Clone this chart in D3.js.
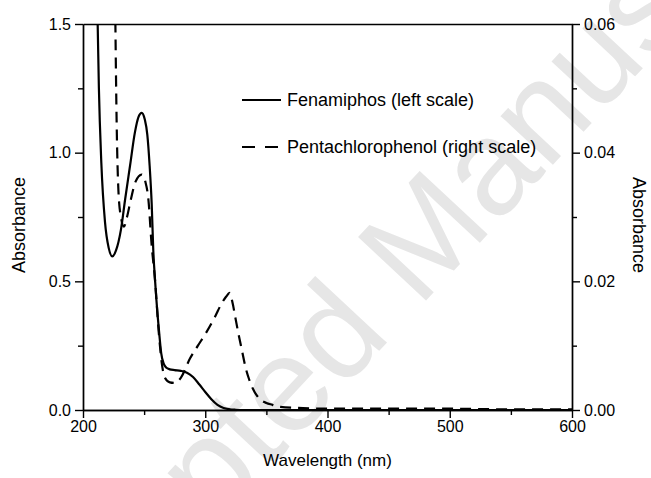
<!DOCTYPE html>
<html><head><meta charset="utf-8">
<script src="https://cdn.jsdelivr.net/npm/d3@7"></script>
<style>body{margin:0;background:#fff}svg{display:block;font-family:"Liberation Sans",Arial,sans-serif}</style>
</head><body>
<script>
// Fenamiphos (left scale): wavelength nm, absorbance
const fenWave = [210,211,212,213,215,218,221,224,227,231,234.5,238.5,242.5,245.5,248,250.5,252.6,254.5,256.2,257.5,259,261,262.5,264,266,268,271,275,280,285,290,295,300,305,310,315,320,325,330,400,500,600];
const fenAbs  = [1.9,1.7,1.5,1.25,0.96,0.73,0.63,0.597,0.62,0.70,0.82,0.95,1.08,1.14,1.155,1.13,1.07,0.95,0.80,0.62,0.50,0.37,0.29,0.22,0.18,0.165,0.158,0.155,0.152,0.145,0.128,0.10,0.07,0.042,0.02,0.008,0.003,0.001,0,0,0,0];
// Pentachlorophenol (right scale)
const pcpWave = [225.5,226.5,227.5,229,231,233.5,236,239,243,248,251,253.5,256,259,262,264.5,267,271,275.5,280,287.5,294,301,308,313.5,317,320,322.5,324.5,327,330,333,336,339,342,346,350,355,360,380,400,450,500,550,600];
const pcpAbs  = [0.08,0.06,0.045,0.034,0.030,0.0285,0.030,0.0326,0.0355,0.0366,0.0355,0.0327,0.026,0.020,0.012,0.0072,0.005,0.0043,0.0042,0.0050,0.0080,0.0100,0.0121,0.0145,0.0166,0.0176,0.0182,0.0165,0.0145,0.0120,0.0093,0.0066,0.0047,0.0033,0.0023,0.0015,0.0011,0.0008,0.0005,0.0003,0.0002,0.0002,0.0002,0.0001,0.0001];

const xMajor = [200,300,400,500,600], xMinor = [250,350,450,550];
const yLMajor = [0,0.5,1.0,1.5], yLMinor = [0.25,0.75,1.25];
const yRMajor = [0,0.02,0.04,0.06], yRMinor = [0.01,0.03,0.05];
const seriesNames = ["Fenamiphos (left scale)","Pentachlorophenol (right scale)"];

const W=651,H=478, L=83,R=572,T=24,B=410;
const svg = d3.select("body").append("svg").attr("width",W).attr("height",H);

// watermark
svg.append("text").attr("transform","translate(405,255) rotate(-47)")
  .attr("text-anchor","middle").attr("dominant-baseline","central")
  .attr("font-size",135).attr("fill","#e6e6e6").text("Accepted Manuscript");

const x = d3.scaleLinear().domain([200,600]).range([L,R]);
const yL = d3.scaleLinear().domain([0,1.5]).range([B,T]);
const yR = d3.scaleLinear().domain([0,0.06]).range([B,T]);

svg.append("clipPath").attr("id","c").append("rect").attr("x",L).attr("y",T).attr("width",R-L).attr("height",B-T);

const fen = fenWave.map((w,i)=>[w,fenAbs[i]]);
const pcp = pcpWave.map((w,i)=>[w,pcpAbs[i]]);
const g = svg.append("g").attr("clip-path","url(#c)");
g.append("path").datum(fen).attr("fill","none").attr("stroke","#000").attr("stroke-width",2.2)
  .attr("d",d3.line().x(d=>x(d[0])).y(d=>yL(d[1])).curve(d3.curveMonotoneX));
g.append("path").datum(pcp).attr("fill","none").attr("stroke","#000").attr("stroke-width",2.2)
  .attr("stroke-dasharray","11,7")
  .attr("d",d3.line().x(d=>x(d[0])).y(d=>yR(d[1])).curve(d3.curveMonotoneX));

function style(sel){
  sel.selectAll("path,line").attr("stroke","#000").attr("stroke-width",1.4);
  sel.selectAll("text").attr("font-size",16).attr("fill","#000").attr("font-family","'Liberation Sans',Arial,sans-serif");
}
// bottom
svg.append("g").attr("transform",`translate(0,${B})`).call(d3.axisBottom(x).tickValues(xMajor).tickSize(8).tickSizeOuter(0).tickPadding(3)).call(style);
svg.append("g").attr("transform",`translate(0,${B})`).call(d3.axisBottom(x).tickValues(xMinor).tickSize(5).tickSizeOuter(0).tickFormat("")).call(style);
// top
svg.append("g").attr("transform",`translate(0,${T})`).call(d3.axisTop(x).tickValues([]).tickSizeOuter(0)).call(style);
// left
svg.append("g").attr("transform",`translate(${L},0)`).call(d3.axisLeft(yL).tickValues(yLMajor).tickFormat(d3.format(".1f")).tickSize(8).tickSizeOuter(0).tickPadding(4)).call(style);
svg.append("g").attr("transform",`translate(${L},0)`).call(d3.axisLeft(yL).tickValues(yLMinor).tickFormat("").tickSize(5).tickSizeOuter(0)).call(style);
// right
svg.append("g").attr("transform",`translate(${R},0)`).call(d3.axisRight(yR).tickValues(yRMajor).tickFormat(d3.format(".2f")).tickSize(8).tickSizeOuter(0).tickPadding(4)).call(style);
svg.append("g").attr("transform",`translate(${R},0)`).call(d3.axisRight(yR).tickValues(yRMinor).tickFormat("").tickSize(5).tickSizeOuter(0)).call(style);

// axis titles
svg.append("text").attr("x",(L+R)/2).attr("y",466).attr("text-anchor","middle").attr("font-size",17).text("Wavelength (nm)");
svg.append("text").attr("transform",`translate(25,225) rotate(-90)`).attr("text-anchor","middle").attr("font-size",18).text("Absorbance");
svg.append("text").attr("transform",`translate(633,225) rotate(90)`).attr("text-anchor","middle").attr("font-size",18).text("Absorbance");

// legend
const leg = svg.append("g");
const ly = [100,147];
seriesNames.forEach((n,i)=>{
  leg.append("line").attr("x1",242).attr("x2",281).attr("y1",ly[i]).attr("y2",ly[i])
    .attr("stroke","#000").attr("stroke-width",2.2).attr("stroke-dasharray",i? "13,10":null);
  leg.append("text").attr("x",287).attr("y",ly[i]).attr("dy","0.35em").attr("font-size",18).text(n);
});
</script>
</body></html>
